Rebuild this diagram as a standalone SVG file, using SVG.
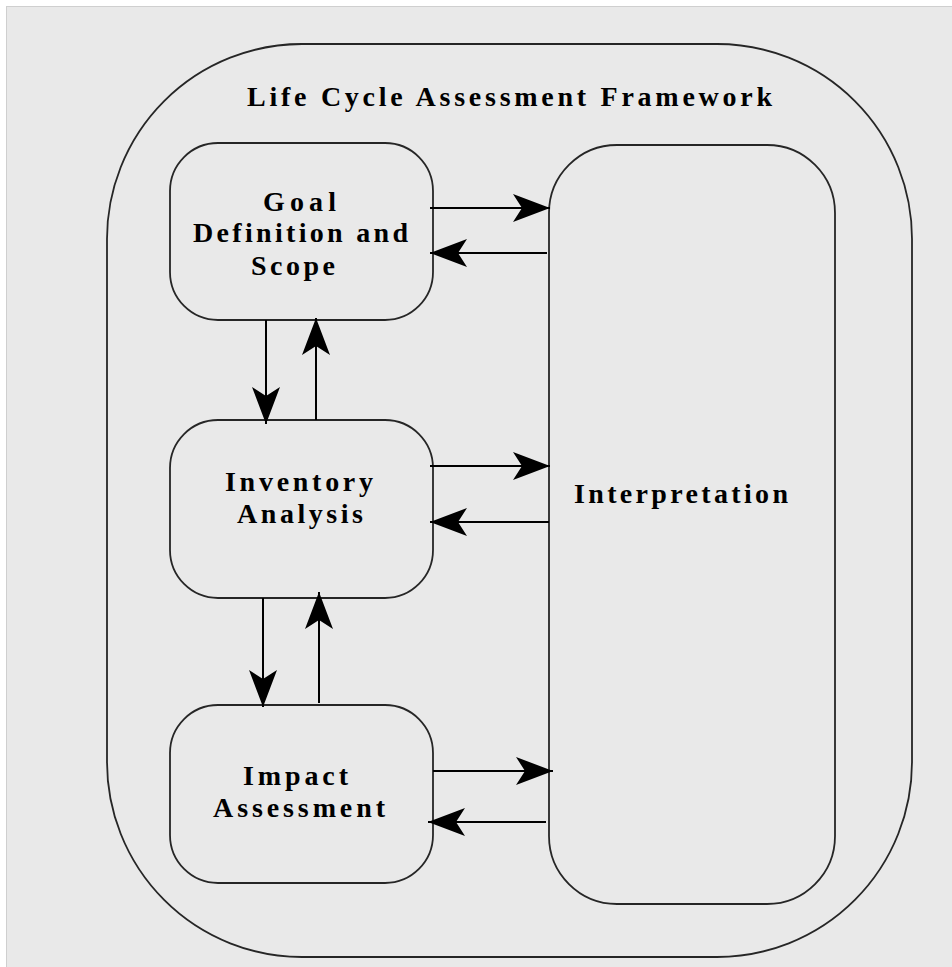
<svg xmlns="http://www.w3.org/2000/svg" width="952" height="967" viewBox="0 0 952 967">
<defs>
<style>
.box{fill:none;stroke:#262626;stroke-width:1.8}
.lbl{font-family:"Liberation Serif","Times New Roman",serif;font-weight:bold;font-size:28px;fill:#000;text-anchor:start}
.con line{stroke:#000;stroke-width:2;marker-end:url(#ah)}
</style>
<marker id="ah" viewBox="0 0 37 28" markerWidth="37" markerHeight="28" refX="37" refY="14" orient="auto" markerUnits="userSpaceOnUse">
<path d="M0,0 L37,14 L0,28 L9,14 Z" fill="#000"/>
</marker>
</defs>
<rect x="0" y="0" width="952" height="967" fill="#ffffff"/>
<rect x="6.5" y="6.5" width="960" height="980" fill="#e9e9e9" stroke="#cfcfcf" stroke-width="1"/>
<g id="framework">
<rect class="box" x="107" y="44" width="805" height="913" rx="195" ry="195"/>
<text class="lbl" x="247" y="106" textLength="525" lengthAdjust="spacing">Life Cycle Assessment Framework</text>
</g>
<g id="goal">
<rect class="box" x="170" y="143" width="263" height="177" rx="48" ry="48"/>
<text class="lbl" x="263" y="211" textLength="73" lengthAdjust="spacing">Goal</text>
<text class="lbl" x="193" y="242" textLength="215" lengthAdjust="spacing">Definition and</text>
<text class="lbl" x="251" y="275" textLength="84" lengthAdjust="spacing">Scope</text>
</g>
<g id="inventory">
<rect class="box" x="170" y="420" width="263" height="178" rx="48" ry="48"/>
<text class="lbl" x="225" y="491" textLength="148" lengthAdjust="spacing">Inventory</text>
<text class="lbl" x="237" y="523" textLength="126" lengthAdjust="spacing">Analysis</text>
</g>
<g id="impact">
<rect class="box" x="170" y="705" width="263" height="178" rx="48" ry="48"/>
<text class="lbl" x="243" y="785" textLength="105" lengthAdjust="spacing">Impact</text>
<text class="lbl" x="213" y="817" textLength="172" lengthAdjust="spacing">Assessment</text>
</g>
<g id="interpretation">
<rect class="box" x="549" y="145" width="286" height="759" rx="68" ry="68"/>
<text class="lbl" x="574" y="503" textLength="214" lengthAdjust="spacing">Interpretation</text>
</g>
<g id="connectors" class="con">
<line x1="430" y1="208" x2="550" y2="208"/>
<line x1="547" y1="253" x2="430" y2="253"/>
<line x1="266" y1="320" x2="266" y2="424"/>
<line x1="316" y1="420" x2="316" y2="318"/>
<line x1="430" y1="466" x2="550" y2="466"/>
<line x1="549" y1="522" x2="430" y2="522"/>
<line x1="263" y1="598" x2="263" y2="707"/>
<line x1="319" y1="703" x2="319" y2="592"/>
<line x1="433" y1="771" x2="553" y2="771"/>
<line x1="546" y1="822" x2="428" y2="822"/>
</g>
</svg>
